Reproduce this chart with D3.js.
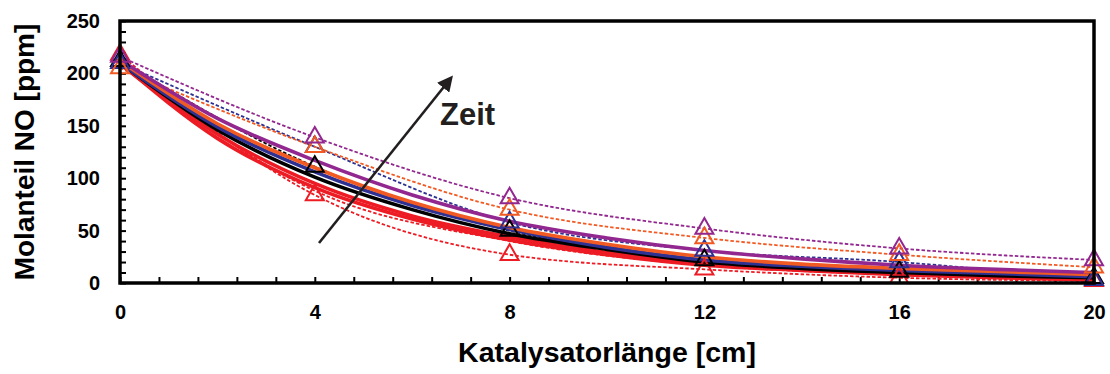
<!DOCTYPE html>
<html>
<head>
<meta charset="utf-8">
<script src="https://cdn.jsdelivr.net/npm/d3@7"></script>
<style>
  html, body { margin: 0; padding: 0; background: #fff; }
  svg { display: block; font-family: "Liberation Sans", Arial, sans-serif; }
</style>
</head>
<body>
<svg id="chart" width="1110" height="374"></svg>
<script>
// Positions along the catalyst where NO was measured [cm]
const measuredX = [0, 4, 8, 12, 16, 20];
// Positions for the simulated profiles [cm]
const modelX = [0, 2, 4, 6, 8, 10, 12, 14, 16, 18, 20];

// Measured NO mole fraction [ppm] (triangles, dashed)
const measRedA   = [218, 84, 27, 13, 5, 2];
const measRedB   = [212, 88, 40, 17, 8, 4];
const measBlack  = [212, 111, 50, 22, 11, 5];
const measBlue   = [210, 130, 58, 31, 20, 3];
const measOrange = [205, 130, 70, 43, 27, 15];
const measPurple = [216, 139, 81, 52, 33, 22];

// Simulated NO mole fraction [ppm] (solid lines)
const simRedA   = [210, 138, 91, 61, 41, 27, 17, 12, 8, 5, 3];
const simRedB   = [209, 142, 95, 64, 44, 29, 19, 13, 9, 6, 4];
const simBlack  = [210, 146, 101, 70, 47, 32, 20, 14, 10, 7, 5];
const simBlue   = [210, 149, 106, 74, 51, 34, 22, 16, 12, 9, 6];
const simOrange = [212, 152, 110, 77, 53, 37, 25, 18, 14, 11, 8];
const simPurple = [213, 157, 117, 84, 59, 43, 31, 23, 17, 13, 10];

// Axis ticks
const xMajorTicks = [0, 4, 8, 12, 16, 20];
const yMajorTicks = [0, 50, 100, 150, 200, 250];

const colors = {
  red: "#ed1c24", black: "#000000", blue: "#2e3192",
  orange: "#f15a22", purple: "#92278f"
};

const measuredSeries = [
  { values: measRedB, color: colors.red, markers: false },
  { values: measRedA, color: colors.red, markers: true },
  { values: measBlack, color: colors.black, markers: true },
  { values: measBlue, color: colors.blue, markers: true },
  { values: measOrange, color: colors.orange, markers: true },
  { values: measPurple, color: colors.purple, markers: true }
];
const simulatedSeries = [
  { values: simRedA, color: colors.red },
  { values: simRedB, color: colors.red },
  { values: simBlack, color: colors.black },
  { values: simBlue, color: colors.blue },
  { values: simOrange, color: colors.orange },
  { values: simPurple, color: colors.purple }
];

const svg = d3.select("#chart");
const plotLeft = 120, plotRight = 1094, plotTop = 21, plotBottom = 283;

const x = d3.scaleLinear().domain([0, 20]).range([plotLeft, plotRight]);
const y = d3.scaleLinear().domain([0, 250]).range([plotBottom, plotTop]);

// Minor ticks (inside the frame)
svg.append("g")
  .attr("transform", `translate(0,${plotBottom})`)
  .call(d3.axisBottom(x).tickValues(d3.range(0, 20.001, 0.8)).tickSizeInner(-6).tickSizeOuter(0).tickFormat(""))
  .call(g => g.select(".domain").remove())
  .call(g => g.selectAll("line").attr("stroke", "#000").attr("stroke-width", 2));
svg.append("g")
  .attr("transform", `translate(${plotLeft},0)`)
  .call(d3.axisLeft(y).tickValues(d3.range(0, 250.001, 10)).tickSizeInner(-6).tickSizeOuter(0).tickFormat(""))
  .call(g => g.select(".domain").remove())
  .call(g => g.selectAll("line").attr("stroke", "#000").attr("stroke-width", 2));

// Tick labels
svg.append("g")
  .attr("transform", `translate(0,${plotBottom})`)
  .call(d3.axisBottom(x).tickValues(xMajorTicks).tickSize(0).tickPadding(22).tickFormat(d3.format("d")))
  .call(g => g.select(".domain").remove())
  .call(g => g.selectAll("text").attr("font-size", 20).attr("font-weight", "bold").attr("fill", "#000")
    .attr("font-family", "Liberation Sans, Arial, sans-serif"));
svg.append("g")
  .attr("transform", `translate(${plotLeft},0)`)
  .call(d3.axisLeft(y).tickValues(yMajorTicks).tickSize(0).tickPadding(20).tickFormat(d3.format("d")))
  .call(g => g.select(".domain").remove())
  .call(g => g.selectAll("text").attr("font-size", 20).attr("font-weight", "bold").attr("fill", "#000")
    .attr("font-family", "Liberation Sans, Arial, sans-serif"));

const plot = svg.append("g");

// Measured profiles: thin dashed lines
const measLine = d3.line()
  .x((d, i) => x(measuredX[i]))
  .y(d => y(d))
  .curve(d3.curveMonotoneX);
plot.selectAll("path.meas")
  .data(measuredSeries)
  .join("path")
  .attr("class", "meas")
  .attr("d", s => measLine(s.values))
  .attr("fill", "none")
  .attr("stroke", s => s.color)
  .attr("stroke-width", 1.8)
  .attr("stroke-dasharray", "3.5,2");

// Simulated profiles: thick solid lines
const simLine = d3.line()
  .x((d, i) => x(modelX[i]))
  .y(d => y(d))
  .curve(d3.curveMonotoneX);
plot.selectAll("path.sim")
  .data(simulatedSeries)
  .join("path")
  .attr("class", "sim")
  .attr("d", s => simLine(s.values))
  .attr("fill", "none")
  .attr("stroke", s => s.color)
  .attr("stroke-width", 3.6);

// Triangle markers at the measured positions
const tri = d3.symbol().type(d3.symbolTriangle).size(140);
measuredSeries.filter(s => s.markers).forEach(s => {
  plot.append("g").selectAll("path")
    .data(s.values)
    .join("path")
    .attr("transform", (d, i) => `translate(${x(measuredX[i])},${y(d)})`)
    .attr("d", tri)
    .attr("fill", "none")
    .attr("stroke", s.color)
    .attr("stroke-width", 2);
});

// Frame
svg.append("rect")
  .attr("x", plotLeft).attr("y", plotTop)
  .attr("width", plotRight - plotLeft).attr("height", plotBottom - plotTop)
  .attr("fill", "none").attr("stroke", "#000").attr("stroke-width", 3.5);

// Time arrow
svg.append("defs").append("marker")
  .attr("id", "arrowhead")
  .attr("viewBox", "0 0 10 10")
  .attr("refX", 8).attr("refY", 5)
  .attr("markerWidth", 6).attr("markerHeight", 6)
  .attr("markerUnits", "strokeWidth")
  .attr("orient", "auto")
  .append("path").attr("d", "M0,0 L10,5 L0,10 Z").attr("fill", "#231f20");
svg.append("line")
  .attr("x1", 319).attr("y1", 243)
  .attr("x2", 451).attr("y2", 78)
  .attr("stroke", "#231f20").attr("stroke-width", 2.6)
  .attr("marker-end", "url(#arrowhead)");
svg.append("text")
  .attr("x", 440).attr("y", 125)
  .attr("font-size", 31).attr("font-weight", "bold").attr("fill", "#231f20")
  .text("Zeit");

// Axis titles
svg.append("text")
  .attr("x", (plotLeft + plotRight) / 2).attr("y", 362)
  .attr("text-anchor", "middle")
  .attr("font-size", 28.5).attr("font-weight", "bold").attr("fill", "#000")
  .text("Katalysatorlänge [cm]");
svg.append("text")
  .attr("transform", `translate(34,${(plotTop + plotBottom) / 2}) rotate(-90)`)
  .attr("text-anchor", "middle")
  .attr("font-size", 28).attr("font-weight", "bold").attr("fill", "#000")
  .text("Molanteil NO [ppm]");
</script>
</body>
</html>
